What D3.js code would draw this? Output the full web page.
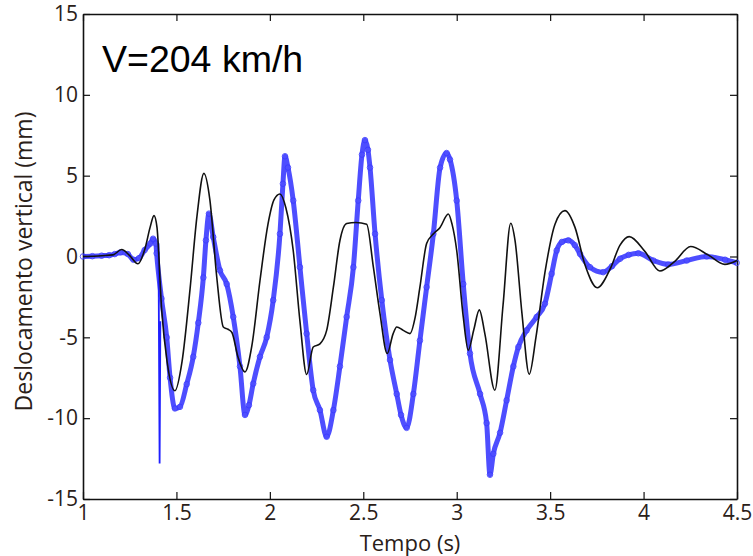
<!DOCTYPE html>
<html>
<head>
<meta charset="utf-8">
<script src="https://cdn.jsdelivr.net/npm/d3@7"></script>
<style>
  body { margin: 0; background: #fff; }
  svg { display: block; }
</style>
</head>
<body>
<div id="chart"></div>
<script>
// measured (blue markers) : [tempo, deslocamento]
const measured = [
  [1.00, 0.00], [1.05, 0.02], [1.10, 0.05], [1.14, 0.08], [1.17, 0.15], [1.20, 0.25],
  [1.24, 0.15], [1.27, -0.20], [1.30, -0.10], [1.33, 0.40], [1.36, 0.80], [1.375, 1.10],
  [1.39, 0.80], [1.394, 0.20], [1.42, -2.60], [1.448, -5.00], [1.466, -7.50], [1.492, -9.40],
  [1.519, -9.30], [1.555, -7.90], [1.590, -6.20], [1.617, -4.10], [1.644, -1.30], [1.658, 1.00],
  [1.674, 2.65], [1.697, 1.20], [1.733, -0.86], [1.769, -1.70], [1.804, -3.74], [1.840, -6.80],
  [1.867, -9.80], [1.888, -9.20], [1.911, -7.86], [1.947, -6.20], [1.983, -5.00], [2.018, -2.70],
  [2.054, 1.40], [2.070, 4.50], [2.081, 6.20], [2.097, 5.50], [2.125, 3.46], [2.161, -0.66],
  [2.197, -4.77], [2.232, -8.27], [2.268, -9.50], [2.304, -11.15], [2.340, -9.50], [2.375, -6.80],
  [2.411, -3.74], [2.447, -0.66], [2.473, 3.46], [2.493, 6.30], [2.509, 7.20], [2.525, 6.60],
  [2.536, 5.50], [2.563, 1.40], [2.599, -2.70], [2.643, -6.40], [2.679, -8.50], [2.702, -9.80],
  [2.732, -10.60], [2.768, -8.50], [2.803, -5.20], [2.839, -1.90], [2.875, 1.40], [2.911, 5.50],
  [2.946, 6.40], [2.964, 6.00], [3.000, 3.46], [3.035, -1.70], [3.071, -6.00], [3.125, -8.50],
  [3.160, -10.30], [3.178, -13.50], [3.196, -12.20], [3.232, -10.90], [3.267, -8.90], [3.303, -6.80],
  [3.330, -5.60], [3.374, -4.57], [3.428, -3.74], [3.472, -2.92], [3.508, -1.07], [3.535, 0.37],
  [3.563, 0.90], [3.597, 1.00], [3.632, 0.70], [3.660, 0.16], [3.713, -0.66], [3.784, -0.97],
  [3.831, -0.60], [3.874, -0.14], [3.920, 0.10], [3.972, 0.20], [4.052, -0.25], [4.132, -0.49],
  [4.231, -0.25], [4.338, 0.00], [4.436, -0.20], [4.498, -0.39]
];

// the single spike in the measurement
const spike = [[1.404, 0.8], [1.410, -12.8], [1.414, -4.0]];

// simulation (black line)
const simulated = [
  [1.00, 0.00], [1.10, 0.05], [1.16, 0.10], [1.207, 0.43], [1.25, 0.05], [1.294, -0.45],
  [1.332, 0.50], [1.359, 1.80], [1.38, 2.53], [1.396, 1.80], [1.421, -3.30], [1.45, -6.50],
  [1.492, -8.30], [1.53, -6.50], [1.573, -2.00], [1.61, 2.50], [1.647, 5.14], [1.679, 3.50],
  [1.716, -1.30], [1.751, -4.36], [1.776, -4.50], [1.797, -4.70], [1.829, -6.20], [1.867, -7.14],
  [1.904, -5.50], [1.947, -1.50], [1.99, 2.00], [2.022, 3.50], [2.054, 3.87], [2.086, 3.00],
  [2.125, 0.37], [2.161, -4.00], [2.197, -7.30], [2.232, -5.60], [2.268, -5.40], [2.304, -4.57],
  [2.340, -1.90], [2.375, 0.99], [2.411, 2.04], [2.461, 2.10], [2.518, 2.00], [2.554, -0.66],
  [2.589, -3.50], [2.628, -6.00], [2.659, -4.80], [2.679, -4.36], [2.714, -4.57], [2.750, -4.77],
  [2.777, -3.80], [2.803, -1.90], [2.839, 0.80], [2.875, 1.40], [2.911, 1.80], [2.955, 2.63],
  [2.975, 2.00], [3.000, 0.37], [3.035, -3.74], [3.062, -5.80], [3.092, -4.50], [3.121, -3.30],
  [3.151, -4.80], [3.204, -8.27], [3.248, -3.00], [3.289, 2.06], [3.312, 1.00], [3.349, -3.50],
  [3.388, -7.28], [3.424, -5.00], [3.472, -1.00], [3.526, 2.00], [3.579, 2.84], [3.633, 1.80],
  [3.686, -0.50], [3.752, -1.93], [3.82, -0.80], [3.874, 0.70], [3.923, 1.23], [4.008, 0.30],
  [4.087, -0.90], [4.167, -0.30], [4.252, 0.62], [4.345, 0.10], [4.435, -0.49], [4.50, -0.25]
];

const xTicks = [1, 1.5, 2, 2.5, 3, 3.5, 4, 4.5];
const yTicks = [-15, -10, -5, 0, 5, 10, 15];
const titleText = "V=204 km/h";
const xLabel = "Tempo (s)";
const yLabel = "Deslocamento vertical (mm)";

const width = 753, height = 556;
const margins = {top: 14, right: 16, bottom: 57, left: 83};

const svg = d3.select("#chart")
  .append("svg")
  .attr("width", width)
  .attr("height", height)
  .attr("viewBox", [0, 0, width, height]);

const xScale = d3.scaleLinear()
  .domain([1, 4.5])
  .range([margins.left, width - margins.right]);
const yScale = d3.scaleLinear()
  .domain([-15, 15])
  .range([height - margins.bottom, margins.top]);

const tickFont = "'Open Sans', sans-serif";
const plain = d => String(d);   // hyphen minus like the original

/* axes: MATLAB style box with ticks pointing inside */
const xBottom = svg.append("g")
  .attr("transform", `translate(0,${yScale(-15)})`)
  .call(d3.axisBottom(xScale).tickValues(xTicks).tickSizeInner(-7).tickSizeOuter(0).tickPadding(9).tickFormat(plain));
const xTop = svg.append("g")
  .attr("transform", `translate(0,${yScale(15)})`)
  .call(d3.axisTop(xScale).tickValues(xTicks).tickSizeInner(-7).tickSizeOuter(0).tickFormat(""));
const yLeft = svg.append("g")
  .attr("transform", `translate(${xScale(1)},0)`)
  .call(d3.axisLeft(yScale).tickValues(yTicks).tickSizeInner(-7).tickSizeOuter(0).tickPadding(5).tickFormat(plain));
const yRight = svg.append("g")
  .attr("transform", `translate(${xScale(4.5)},0)`)
  .call(d3.axisRight(yScale).tickValues(yTicks).tickSizeInner(-7).tickSizeOuter(0).tickFormat(""));

[xBottom, xTop, yLeft, yRight].forEach(g => {
  g.select(".domain").attr("stroke", "#111").attr("stroke-width", 1.6);
  g.selectAll(".tick line").attr("stroke", "#111").attr("stroke-width", 1.2);
  g.selectAll("text")
    .attr("fill", "#2a2018")
    .style("font-family", tickFont)
    .style("font-size", "21px");
});
xBottom.selectAll("text").attr("dy", "0.55em");

/* data lines */
const line = d3.line()
  .x(d => xScale(d[0]))
  .y(d => yScale(d[1]))
  .curve(d3.curveMonotoneX);

const plot = svg.append("g");

plot.append("path")
  .datum(measured)
  .attr("fill", "none")
  .attr("stroke", "#2222ff")
  .attr("stroke-opacity", 0.8)
  .attr("stroke-width", 5)
  .attr("stroke-linejoin", "round")
  .attr("d", line);

plot.append("path")
  .datum(spike)
  .attr("fill", "none")
  .attr("stroke", "#1f1fff")
  .attr("stroke-width", 1.8)
  .attr("d", d3.line().x(d => xScale(d[0])).y(d => yScale(d[1])));

plot.append("g")
  .selectAll("circle")
  .data(measured)
  .join("circle")
  .attr("cx", d => xScale(d[0]))
  .attr("cy", d => yScale(d[1]))
  .attr("r", 2.8)
  .attr("fill", "none")
  .attr("stroke", "#3a3aff")
  .attr("stroke-opacity", 0.8)
  .attr("stroke-width", 1);

plot.append("path")
  .datum(simulated)
  .attr("fill", "none")
  .attr("stroke", "#111")
  .attr("stroke-width", 1.6)
  .attr("stroke-linejoin", "round")
  .attr("d", line);

/* texts */
svg.append("text")
  .attr("x", 102)
  .attr("y", 72)
  .style("font-family", "'Liberation Sans', Arial, sans-serif")
  .style("font-size", "37.5px")
  .attr("fill", "#000")
  .text(titleText);

svg.append("text")
  .attr("x", (xScale(1) + xScale(4.5)) / 2)
  .attr("y", 551)
  .attr("text-anchor", "middle")
  .style("font-family", tickFont)
  .style("font-size", "22px")
  .attr("fill", "#2a2018")
  .text(xLabel);

svg.append("text")
  .attr("transform", `translate(32,${yScale(0) + 5}) rotate(-90)`)
  .attr("text-anchor", "middle")
  .style("font-family", tickFont)
  .style("font-size", "23px")
  .attr("fill", "#2a2018")
  .text(yLabel);
</script>
</body>
</html>
